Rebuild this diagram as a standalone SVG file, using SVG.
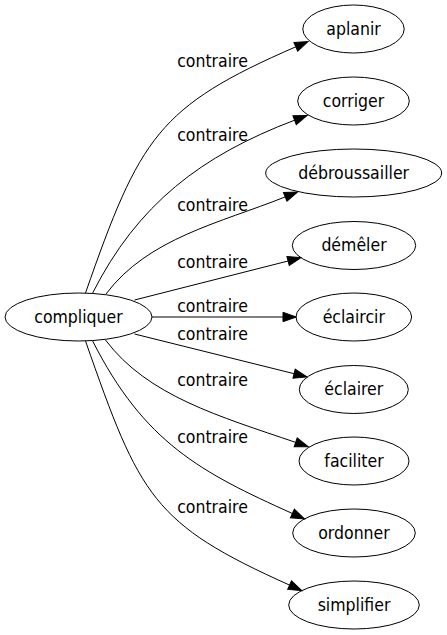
<svg xmlns="http://www.w3.org/2000/svg" width="447" height="635" viewBox="0 0 447 635">
<style>
.node ellipse{fill:none;stroke:#000;stroke-width:1}
.node text{font-family:"DejaVu Sans Condensed","DejaVu Sans",sans-serif;font-stretch:condensed;font-size:17.5px;text-anchor:middle;fill:#000}
.edges path{fill:none;stroke:#000;stroke-width:1;marker-end:url(#arr)}
.edges text{font-family:"DejaVu Sans Condensed","DejaVu Sans",sans-serif;font-stretch:condensed;font-size:17.5px;text-anchor:middle;fill:#000}
</style>
<defs>
<marker id="arr" markerUnits="userSpaceOnUse" markerWidth="16" markerHeight="12" refX="0" refY="0" viewBox="0 -6 16 12" orient="auto" overflow="visible">
<path d="M0,-4.7 L13.3,0 L0,4.7 Z" fill="#000" stroke="#000" stroke-width="1"/>
</marker>
</defs>
<rect width="447" height="635" fill="#fff"/>
<g class="edges" id="connectors">
<path d="M85.5,293 C140,137 158,106.7 295.8,46.8"/>
<text x="212.5" y="67.3">contraire</text>
<path d="M92.5,293.3 C137.5,204.3 201.1,155.6 294.6,120.2"/>
<text x="212.5" y="141">contraire</text>
<path d="M106,294 C148,238 220.2,222.9 285.2,196.9"/>
<text x="212.5" y="210.5">contraire</text>
<path d="M134.5,300 L288.1,261"/>
<text x="212.5" y="268">contraire</text>
<path d="M152,317 L283,317"/>
<text x="212.5" y="311.7">contraire</text>
<path d="M134.5,334 L294.1,373.7"/>
<text x="212.5" y="339.7">contraire</text>
<path d="M105.5,340 C147.5,396 220,416.5 295.7,442.4"/>
<text x="212.5" y="385.5">contraire</text>
<path d="M92.5,340.7 C144.3,443 201.2,472.5 292.4,513.5"/>
<text x="212.5" y="443">contraire</text>
<path d="M85.5,341 C140,497 152.7,523.8 289.6,585.1"/>
<text x="212.5" y="513">contraire</text>
</g>
<g class="node" id="compliquer"><ellipse cx="78.5" cy="317" rx="73.5" ry="24"/><text x="78.5" y="322.5">compliquer</text></g>
<g class="node" id="aplanir"><ellipse cx="353.5" cy="29" rx="50.7" ry="24"/><text x="353.5" y="34.5">aplanir</text></g>
<g class="node" id="corriger"><ellipse cx="353.5" cy="101" rx="55.8" ry="24"/><text x="353.5" y="106.5">corriger</text></g>
<g class="node" id="debroussailler"><ellipse cx="353.7" cy="173" rx="88" ry="24"/><text x="353.7" y="178.5">débroussailler</text></g>
<g class="node" id="demeler"><ellipse cx="354" cy="245.5" rx="61.7" ry="24"/><text x="354" y="251">démêler</text></g>
<g class="node" id="eclaircir"><ellipse cx="353.8" cy="317" rx="57.8" ry="24"/><text x="353.8" y="322.5">éclaircir</text></g>
<g class="node" id="eclairer"><ellipse cx="353.8" cy="389.5" rx="54.5" ry="24"/><text x="353.8" y="395">éclairer</text></g>
<g class="node" id="faciliter"><ellipse cx="354" cy="461" rx="55" ry="24"/><text x="354" y="466.5">faciliter</text></g>
<g class="node" id="ordonner"><ellipse cx="354" cy="533" rx="61.3" ry="24"/><text x="354" y="538.5">ordonner</text></g>
<g class="node" id="simplifier"><ellipse cx="354" cy="605" rx="65.3" ry="24"/><text x="354" y="610.5">simplifier</text></g>
</svg>
